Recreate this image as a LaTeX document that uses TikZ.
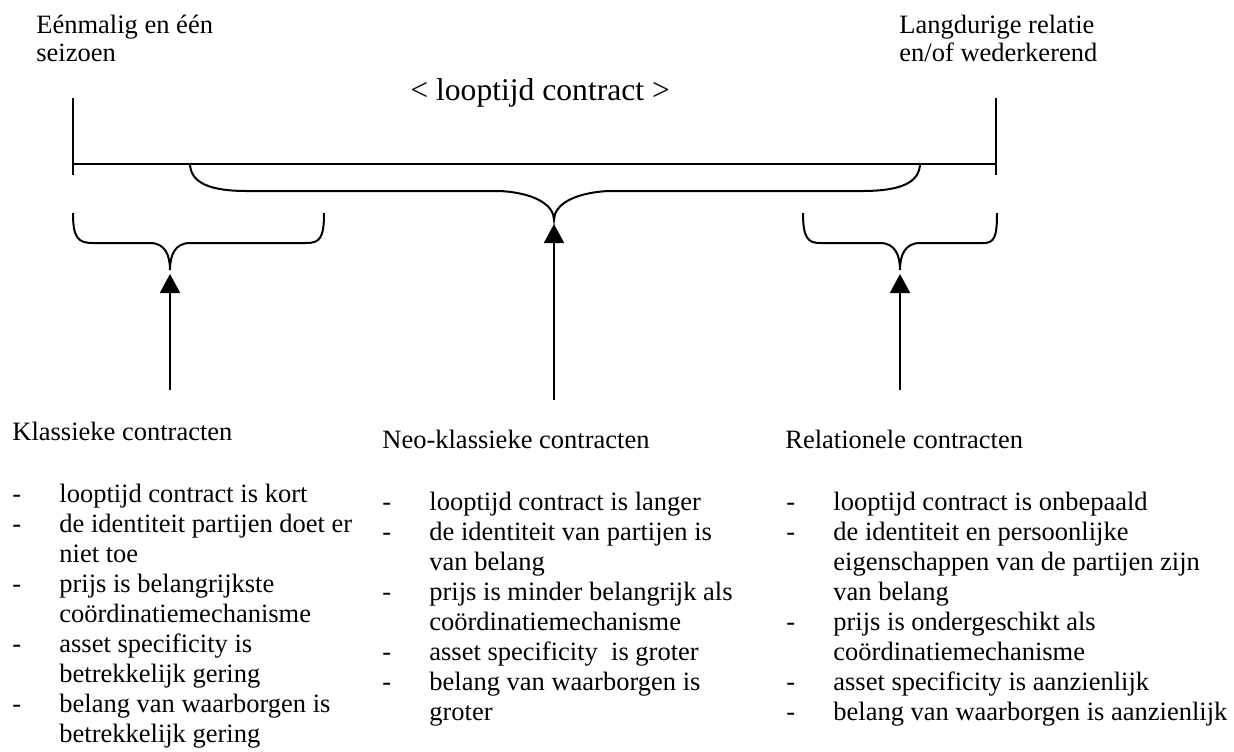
\documentclass[tikz,border=0pt]{standalone}
\usepackage{fontspec}
\setmainfont{Liberation Serif}
\usetikzlibrary{arrows.meta,positioning}
\tikzset{
  lijn/.style={black, line width=1pt},
  accolade/.style={black, line width=1pt},
  pijl/.style={black, line width=1pt, -{Triangle[length=9.5pt,width=10pt]}, shorten >=2pt},
  tekst/.style={font=\fontsize{13.25}{15}\selectfont, inner sep=0pt, align=left, anchor=base west},
  randtekst/.style={font=\fontsize{13.25}{14.2}\selectfont, inner sep=0pt, align=left, anchor=base west},
  titel/.style={font=\fontsize{15.8}{18}\selectfont, inner sep=0pt, anchor=base west}
}
\newcommand{\streep}{\makebox[23.5pt][l]{-}}
\newcommand{\inspr}{\hspace*{23.5pt}}

\begin{document}
\begin{tikzpicture}[x=0.5pt, y=-0.5pt]
  \useasboundingbox (0,0) rectangle (1234,751);
  % tijdas (bij meerdere regels ligt base op de laatste regel)
  \node[randtekst] (kort) at (36,61.4) {Eénmalig en één\\seizoen};
  \node[randtekst] (lang) at (899,61.4) {Langdurige relatie\\en/of wederkerend};
  \node[titel] (looptijd) at (410,100) {< looptijd contract >};
  \coordinate (asL) at (73,164);
  \coordinate (asR) at (996,164);
  \draw[lijn] (73,98) -- (73,175);
  \draw[lijn] (996,98) -- (996,175);
  \draw[lijn] (asL) -- (asR);
  % accolades
  \coordinate (klasTip) at (170,270);
  \coordinate (neoTip) at (554,220);
  \coordinate (relTip) at (900,270);
  \draw[accolade] (73,213) .. controls (73,238) and (78,243) .. (93,243) -- (150,243)
    .. controls (165,243) and (170,255) .. (klasTip)
    .. controls (170,255) and (175,243) .. (190,243) -- (306,243)
    .. controls (320,243) and (324,238) .. (324,213);
  \draw[accolade] (190,163) .. controls (190,183) and (210,191) .. (247,191) -- (500,191)
    .. controls (535,193) and (554,205) .. (neoTip)
    .. controls (554,205) and (573,193) .. (608,191) -- (862,191)
    .. controls (900,191) and (920,183) .. (920,163);
  \draw[accolade] (803,213) .. controls (803,238) and (808,243) .. (820,243) -- (880,243)
    .. controls (895,243) and (900,255) .. (relTip)
    .. controls (900,255) and (905,243) .. (920,243) -- (983,243)
    .. controls (994,243) and (997,238) .. (997,213);
  % pijlen
  \coordinate (klasVoet) at (170,390);
  \coordinate (neoVoet) at (554,400);
  \coordinate (relVoet) at (900,390);
  \draw[pijl] (klasVoet) -- (klasTip);
  \draw[pijl] (neoVoet) -- (neoTip);
  \draw[pijl] (relVoet) -- (relTip);
  % contractvormen
  \node[tekst] (klasKop) at (12,440) {Klassieke contracten};
  \node[tekst] (klasLijst) at (12,742) {\streep looptijd contract is kort\\
    \streep de identiteit partijen doet er\\
    \inspr niet toe\\
    \streep prijs is belangrijkste\\
    \inspr coördinatiemechanisme\\
    \streep asset specificity is\\
    \inspr betrekkelijk gering\\
    \streep belang van waarborgen is\\
    \inspr betrekkelijk gering};
  \node[tekst] (neoKop) at (382,448) {Neo-klassieke contracten};
  \node[tekst] (neoLijst) at (382,720) {\streep looptijd contract is langer\\
    \streep de identiteit van partijen is\\
    \inspr van belang\\
    \streep prijs is minder belangrijk als\\
    \inspr coördinatiemechanisme\\
    \streep asset specificity~ is groter\\
    \streep belang van waarborgen is\\
    \inspr groter};
  \node[tekst] (relKop) at (785,448) {Relationele contracten};
  \node[tekst] (relLijst) at (786,720) {\streep looptijd contract is onbepaald\\
    \streep de identiteit en persoonlijke\\
    \inspr eigenschappen van de partijen zijn\\
    \inspr van belang\\
    \streep prijs is ondergeschikt als\\
    \inspr coördinatiemechanisme\\
    \streep asset specificity is aanzienlijk\\
    \streep belang van waarborgen is aanzienlijk};
\end{tikzpicture}
\end{document}
